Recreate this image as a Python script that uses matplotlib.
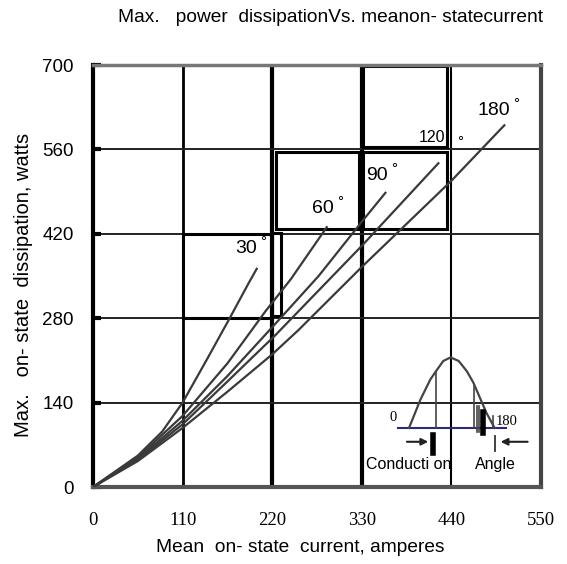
import matplotlib.pyplot as plt
from matplotlib.patches import Rectangle

# mean on-state current (A) vs max dissipation (W), one curve per conduction angle
x30 = [0, 55, 85, 110, 140, 167, 191, 201]
y30 = [0, 52, 92, 140, 212, 278, 338, 362]
x60 = [0, 55, 110, 165, 212, 243, 287]
y60 = [0, 49, 118, 205, 292, 345, 431]
x90 = [0, 55, 110, 165, 220, 277, 330, 359]
y90 = [0, 47, 110, 184, 265, 350, 440, 488]
x120 = [0, 55, 110, 165, 224, 330, 424]
y120 = [0, 45, 104, 175, 252, 400, 537]
x180 = [0, 55, 110, 165, 220, 252, 330, 440, 505]
y180 = [0, 43, 98, 158, 220, 260, 365, 508, 600]

xticks = [0, 110, 220, 330, 440, 550]
yticks = [0, 140, 280, 420, 560, 700]

# conduction-angle sketch (half sine pulse) in the lower right corner
hump_x = [388, 402, 414, 420, 430, 439, 449, 459, 467, 475, 483, 493]
hump_y = [98, 145, 178, 190, 209, 215, 209, 192, 173, 148, 123, 98]

W, H = 567, 564
fig = plt.figure(figsize=(W / 100, H / 100), dpi=100)
ax = fig.add_axes([93 / W, 1 - 487 / H, (541 - 93) / W, (487 - 65) / H])
ax.set_xlim(0, 550)
ax.set_ylim(0, 700)

# grid with uneven line weights like the scan
for xv, lw in [(110, 2.0), (220, 3.0), (330, 3.0), (440, 1.5)]:
    ax.axvline(xv, color="black", lw=lw, zorder=1)
for yv in [140, 280, 420, 560]:
    ax.axhline(yv, color="#222222", lw=1.4, zorder=1)

# heavy boxes
boxes = [(110, 280, 110, 140), (220, 283, 11, 138), (225, 428, 101, 128),
         (331, 428, 104, 128), (332, 564, 103, 135)]
for bx, by, bw, bh in boxes:
    ax.add_patch(Rectangle((bx, by), bw, bh, fill=False, ec="black", lw=2.2, zorder=2))

for xs, ys in [(x30, y30), (x60, y60), (x90, y90), (x120, y120), (x180, y180)]:
    ax.plot(xs, ys, color="#3a3a3a", lw=1.6, zorder=3, solid_joinstyle="round")

# curve labels
labels = [("30", 188, 395, 14, 209, 406), ("60", 282, 462, 14, 304, 473),
          ("90", 348, 517, 14, 370, 528), ("120", 416, 580, 11.5, 451, 572),
          ("180", 492, 625, 14, 519, 636)]
for txt, tx, ty, fs, dx, dy in labels:
    ax.text(tx, ty, txt, fontsize=fs, family="Liberation Sans", ha="center", va="center", zorder=4)
    ax.text(dx, dy, "°", fontsize=11, family="Liberation Sans", ha="center", va="center", zorder=4)

# inset sketch
ax.plot([375, 507], [98, 98], color="#2b2b7a", lw=1.5, zorder=3)
ax.plot(hump_x, hump_y, color="#444444", lw=1.6, zorder=3)
ax.plot([421, 421], [98, 190], color="#444444", lw=1.2, zorder=3)
ax.plot([468, 468], [98, 168], color="#444444", lw=1.2, zorder=3)
ax.plot([471, 471], [92, 135], color="#444444", lw=1.2, zorder=3)
ax.plot([474, 474], [92, 135], color="#444444", lw=1.2, zorder=3)
ax.plot([479, 479], [90, 125], color="black", lw=4, zorder=3)
ax.plot([491, 491], [100, 117], color="#444444", lw=1.2, zorder=3)
ax.text(369, 115, "0", fontsize=10.5, family="Liberation Serif", ha="center", va="center")
ax.text(508, 108, "180", fontsize=10.5, family="Liberation Serif", ha="center", va="center")
ax.annotate("", xy=(415, 75), xytext=(382, 75),
            arrowprops=dict(arrowstyle="-|>", color="#222222", lw=1.5))
ax.plot([418, 418], [57, 87], color="black", lw=4, zorder=3)
ax.annotate("", xy=(497, 75), xytext=(537, 75),
            arrowprops=dict(arrowstyle="-|>", color="#222222", lw=1.5))
ax.plot([493, 493], [59, 84], color="#333333", lw=1.3, zorder=3)
ax.text(388, 38, "Conducti on", fontsize=11.5, family="Liberation Sans", ha="center", va="center")
ax.text(494, 38, "Angle", fontsize=11.5, family="Liberation Sans", ha="center", va="center")

# axes frame and ticks
ax.spines["left"].set(lw=3, color="black")
ax.spines["bottom"].set(lw=3, color="#555555")
ax.spines["top"].set(lw=2.5, color="#777777")
ax.spines["right"].set(lw=3, color="#444444")
ax.set_xticks(xticks)
ax.set_yticks(yticks)
ax.set_xticklabels([str(v) for v in xticks], family="Liberation Serif", fontsize=13.5)
ax.set_yticklabels([str(v) for v in yticks], family="Liberation Sans", fontsize=13.5)
ax.tick_params(axis="x", length=0, pad=18)
ax.tick_params(axis="y", direction="in", length=6, width=3, pad=14)

fig.text(331 / W, 1 - 17 / H, "Max.   power  dissipationVs. meanon- statecurrent",
         fontsize=13.8, family="Liberation Sans", ha="center", va="center")
fig.text(300 / W, 1 - 548 / H, "Mean  on- state  current, amperes",
         fontsize=13.8, family="Liberation Sans", ha="center", va="center")
fig.text(24 / W, 1 - 285 / H, "Max.   on- state  dissipation, watts",
         fontsize=14.5, family="Liberation Sans", ha="center", va="center", rotation=90)

fig.savefig("out.png", dpi=100)
